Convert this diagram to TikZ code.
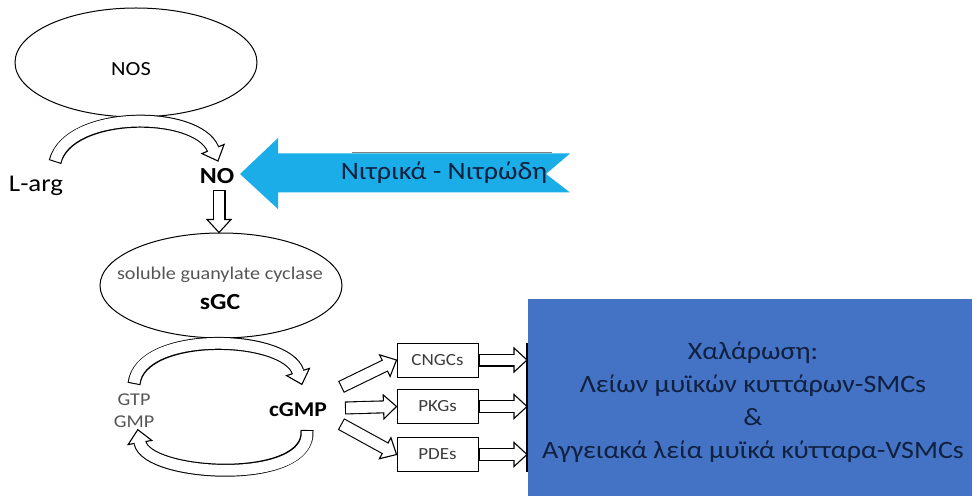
\documentclass[tikz,border=0pt]{standalone}
\usepackage{fontspec}
\setmainfont{Carlito}[FakeStretch=1.12]
\usetikzlibrary{calc,shapes.geometric}
\definecolor{cyanarrow}{HTML}{1AADE8}
\definecolor{boxblue}{HTML}{4472C4}
\definecolor{navytext}{HTML}{10203F}
\definecolor{graytext}{HTML}{555555}
% hollow block arrow: start, control 1, control 2, base of head
\newcommand\hl{13pt}
\newcommand\hw{12pt}
\newcommand\blockarr[4]{%
  \draw[shaftblack] (#1) .. controls (#2) and (#3) .. (#4);
  \draw[headshape] ($(#4)!\hl!180:(#3)$) -- ($(#4)!\hw!90:(#3)$) -- ($(#4)!\hw!-90:(#3)$) -- cycle;
  \draw[shaftwhite] (#1) .. controls (#2) and (#3) .. (#4) -- ($(#4)!2.5pt!180:(#3)$);
}
% straight hollow block arrow from #1 to tip #2
\newcommand\blockstraight[2]{%
  \coordinate (tmpbase) at ($(#2)!\hl!(#1)$);
  \blockarr{#1}{#1}{#1}{tmpbase}%
}
\begin{document}
\begin{tikzpicture}[x=1pt,y=1pt,
  ell/.style={ellipse, draw, line width=1pt, inner sep=0pt},
  shaftblack/.style={draw=black, line width=13pt},
  shaftwhite/.style={draw=white, line width=10.8pt, shorten <=1.1pt},
  headshape/.style={draw=black, fill=white, line width=1.1pt, line join=miter},
  smallbox/.style={draw, line width=0.9pt, minimum width=81pt, minimum height=34pt, inner sep=0pt,
     font=\fontsize{17}{20}\selectfont, text=graytext!70!black},
  lbl/.style={inner sep=0pt}]
\useasboundingbox (0,0) rectangle (972,496);

% NOS and NO
\node[ell, minimum width=242pt, minimum height=109pt] (nos) at (136,433.5) {};
\node[lbl, font=\fontsize{20}{24}\selectfont] (noslbl) at (131,427) {NOS};
\node[lbl, font=\fontsize{24}{28}\selectfont] (larg) at (36,310) {L-arg};
\node[lbl, font=\fontsize{23}{26}\selectfont\bfseries] (no) at (217,320) {NO};

% blue arrow
\fill[cyanarrow] (240,322) -- (278,358) -- (278,342.5) -- (570,342.5) -- (546,322) -- (570,303.5)
   -- (278,303.5) -- (278,287) -- cycle;
\draw[gray, line width=1pt] (352,343) -- (552,343);
\node[lbl, font=\fontsize{25}{28}\selectfont, text=navytext] (nitr) at (444,323) {Νιτρικά - Νιτρώδη};

% sGC
\node[ell, minimum width=242pt, minimum height=105pt] (sgc) at (221,210.5) {};
\node[lbl, font=\fontsize{18}{21}\selectfont, text=graytext] (sgclong) at (220,221) {soluble guanylate cyclase};
\node[lbl, font=\fontsize{23}{26}\selectfont\bfseries] (sgcshort) at (220,194) {sGC};

% cycle labels
\node[lbl, font=\fontsize{18}{20}\selectfont, text=graytext] (gtp) at (134,96) {GTP};
\node[lbl, font=\fontsize{18}{20}\selectfont, text=graytext] (gmp) at (134,74) {GMP};
\node[lbl, font=\fontsize{21}{26}\selectfont\bfseries] (cgmp) at (298,86) {cGMP};

% small boxes
\node[smallbox] (cngc) at (437.5,136) {CNGCs};
\node[smallbox] (pkg) at (437.5,89.5) {PKGs};
\node[smallbox] (pde) at (437.5,41.5) {PDEs};

% big blue box
\node[fill=boxblue, minimum width=444pt, minimum height=197pt, anchor=south west, inner sep=0pt] (relax) at (528,0) {};
\node[lbl, align=center, text=navytext, font=\fontsize{25}{33}\selectfont] (relaxtext) at (753,93.5)
  {Χαλάρωση:\\Λείων μυϊκών κυττάρων-SMCs\\\&\\Αγγειακά λεία μυϊκά κύτταρα-VSMCs};

% coordinates
\coordinate (a1) at (55,334);
\coordinate (a2) at (213,347);
\coordinate (d1) at (219,306);
\coordinate (d2) at (d1 |- sgc.north);
\coordinate (c1) at (134,112);
\coordinate (c2) at (298,124);
\coordinate (c3) at (307,66);
\coordinate (c4) at (140,53.5);
\coordinate (g1) at (341,109);
\coordinate (g2) at (345,88);
\coordinate (g3) at (341,72);
\coordinate (bt) at (527,153);
\coordinate (bb) at (527,24);
\coordinate (e1) at (cngc.east -| bt);
\coordinate (e2) at (pkg.east -| bt);
\coordinate (e3) at (pde.east -| bt);

% connectors
\blockarr{a1}{68,386}{197,386}{a2}
\blockstraight{d1}{d2}
\blockarr{c1}{140,166}{286,162}{c2}
\blockarr{c3}{312,10}{146,19}{c4}
\blockstraight{g1}{cngc.west}
\blockstraight{g2}{pkg.west}
\blockstraight{g3}{pde.west}
\blockstraight{cngc.east}{e1}
\blockstraight{pkg.east}{e2}
\blockstraight{pde.east}{e3}
\draw[line width=1.2pt] (bt) -- (bb);
\end{tikzpicture}
\end{document}
